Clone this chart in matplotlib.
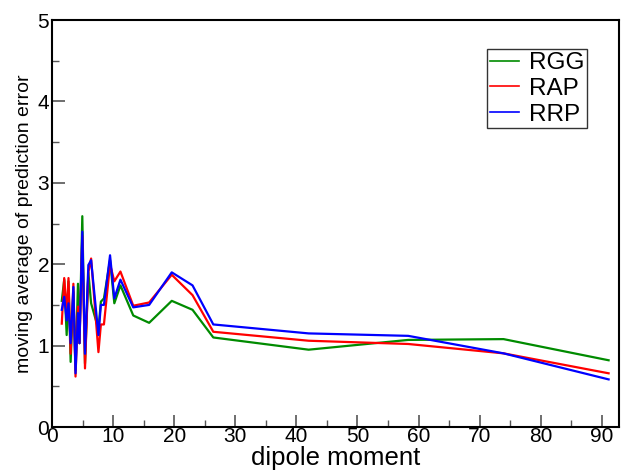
import matplotlib
matplotlib.use("Agg")
import matplotlib.pyplot as plt
from matplotlib.ticker import MultipleLocator

plt.rcParams['font.family'] = ['Liberation Sans', 'DejaVu Sans']

dipole = [1.6, 2.0, 2.4, 2.7, 3.05, 3.5, 3.85, 4.25, 4.5, 4.96, 5.4, 5.95, 6.4,
          7.6, 8.0, 8.5, 9.5, 10.2, 11.2, 13.3, 15.9, 19.6, 23.0, 26.4, 42.0,
          58.3, 73.9, 91.1]
rgg = [1.55, 1.81, 1.13, 1.79, 0.80, 1.66, 0.70, 1.76, 1.03, 2.59, 0.78, 1.90,
       1.52, 1.20, 1.54, 1.58, 2.05, 1.52, 1.74, 1.37, 1.28, 1.55, 1.44, 1.10,
       0.95, 1.07, 1.08, 0.82]
rap = [1.27, 1.83, 1.40, 1.83, 0.90, 1.76, 0.62, 1.48, 1.03, 2.35, 0.72, 1.90,
       2.07, 0.92, 1.26, 1.26, 2.00, 1.79, 1.91, 1.49, 1.53, 1.87, 1.62, 1.17,
       1.06, 1.02, 0.905, 0.66]
rrp = [1.44, 1.60, 1.31, 1.52, 1.03, 1.72, 0.66, 1.40, 1.03, 2.40, 0.90, 1.99,
       2.05, 1.13, 1.50, 1.50, 2.11, 1.58, 1.81, 1.47, 1.50, 1.90, 1.74, 1.26,
       1.15, 1.12, 0.905, 0.585]

fig = plt.figure(figsize=(6.25, 4.72), dpi=100)
ax = fig.add_axes([0.0832, 0.0953, 0.9072, 0.8623])

ax.plot(dipole, rgg, color='#008b00', lw=1.6, label='RGG')
ax.plot(dipole, rap, color='#ff0000', lw=1.6, label='RAP')
ax.plot(dipole, rrp, color='#0000ff', lw=1.6, label='RRP')

ax.set_xlim(0, 92.8)
ax.set_ylim(0, 5)
ax.xaxis.set_major_locator(MultipleLocator(10))
ax.xaxis.set_minor_locator(MultipleLocator(5))
ax.yaxis.set_major_locator(MultipleLocator(1))
ax.yaxis.set_minor_locator(MultipleLocator(0.5))
ax.tick_params(which='both', direction='in', labelsize=15, color='#555555')
ax.tick_params(which='major', length=9, width=1.2)
ax.tick_params(which='minor', length=5, width=1.0)
ax.tick_params(axis='x', pad=0)
ax.tick_params(axis='y', pad=2)
for s in ax.spines.values():
    s.set_linewidth(1.5)

ax.set_xlabel('dipole moment', fontsize=18.5, va='baseline')
ax.xaxis.set_label_coords(0.5, -0.094)
ax.set_ylabel('moving average of prediction error', fontsize=14, labelpad=3)

leg = ax.legend(loc='upper left', bbox_to_anchor=(0.767, 0.928), fontsize=17.5,
                frameon=True, fancybox=False, edgecolor='black',
                handlelength=1.2, handletextpad=0.4, borderpad=0.12,
                labelspacing=0.15, borderaxespad=0)
leg.get_frame().set_linewidth(1.0)
for h in leg.legend_handles:
    h.set_linewidth(1.2)

fig.savefig('out.png', dpi=100)
